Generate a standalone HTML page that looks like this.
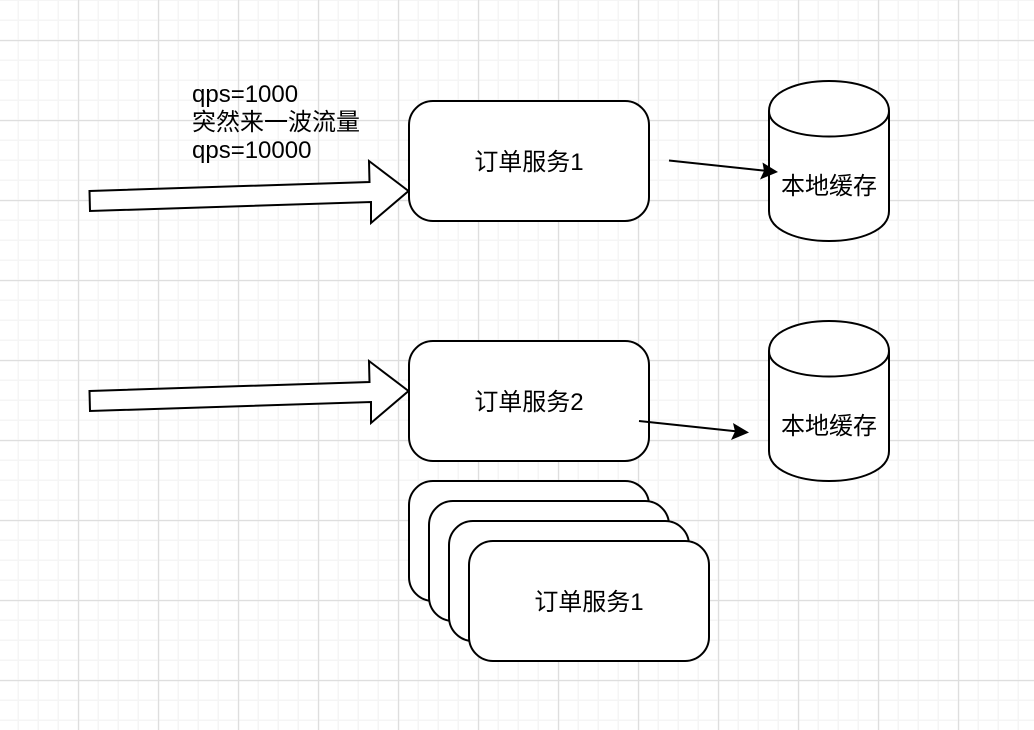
<!DOCTYPE html>
<html><head><meta charset="utf-8"><style>
html,body{margin:0;padding:0;background:#fff;width:1034px;height:730px;overflow:hidden}
svg{display:block}
text{font-family:"Liberation Sans","Noto Sans CJK SC",sans-serif;font-size:24px;fill:#000}
</style></head><body>
<svg width="1034" height="730" viewBox="0 0 1034 730" xmlns="http://www.w3.org/2000/svg">
<defs>
<pattern id="minor" width="20" height="20" patternUnits="userSpaceOnUse" x="-2.5" y="-0.5">
<rect x="0" y="0" width="20" height="1.5" fill="#f5f5f5"/>
<rect x="0" y="0" width="1.5" height="20" fill="#f5f5f5"/>
</pattern>
<pattern id="major" width="80" height="80" patternUnits="userSpaceOnUse" x="78" y="40">
<rect x="0" y="0" width="80" height="1.2" fill="#dedede"/>
<rect x="0" y="0" width="1.2" height="80" fill="#dedede"/>
</pattern>
</defs>
<rect width="1034" height="730" fill="#fff"/>
<rect width="1034" height="730" fill="url(#minor)"/>
<rect width="1034" height="730" fill="url(#major)"/>
<g fill="#fff" stroke="#000" stroke-width="2" stroke-linejoin="miter">
<polygon points="89.5,191 369.500,182 369,161 408.500,191 371,223 371,202 90,211"/>
<polygon points="89.5,391 369.500,382 369,361 408.500,391 371,423 371,402 90,411"/>
<rect x="409" y="101" width="240" height="120" rx="24"/>
<rect x="409" y="341" width="240" height="120" rx="24"/>
<rect x="409" y="481" width="240" height="120" rx="24"/>
<rect x="429" y="501" width="240" height="120" rx="24"/>
<rect x="449" y="521" width="240" height="120" rx="24"/>
<rect x="469" y="541" width="240" height="120" rx="24"/>
<path d="M769,111 C769,71 889,71 889,111 L889,211 C889,251 769,251 769,211 Z"/>
<path d="M769,111 C769,145 889,145 889,111" fill="none"/>
<path d="M769,351 C769,311 889,311 889,351 L889,451 C889,491 769,491 769,451 Z"/>
<path d="M769,351 C769,385 889,385 889,351" fill="none"/>
</g>
<g stroke="#000" stroke-width="2" fill="none">
<line x1="669" y1="160.500" x2="768" y2="171"/>
<line x1="639" y1="421" x2="738" y2="431.500"/>
</g>
<polygon points="778,172 760,179.500 764,171 762.500,162.500" fill="#000"/>
<polygon points="749,432.500 731,440 735,431.500 733,423" fill="#000"/>
<text x="192" y="102">qps=1000</text>
<text x="192" y="130">突然来一波流量</text>
<text x="192" y="158">qps=10000</text>
<text x="529" y="170" text-anchor="middle">订单服务1</text>
<text x="529" y="410" text-anchor="middle">订单服务2</text>
<text x="589" y="610" text-anchor="middle">订单服务1</text>
<text x="829" y="194" text-anchor="middle">本地缓存</text>
<text x="829" y="434" text-anchor="middle">本地缓存</text>
</svg>
</body></html>
